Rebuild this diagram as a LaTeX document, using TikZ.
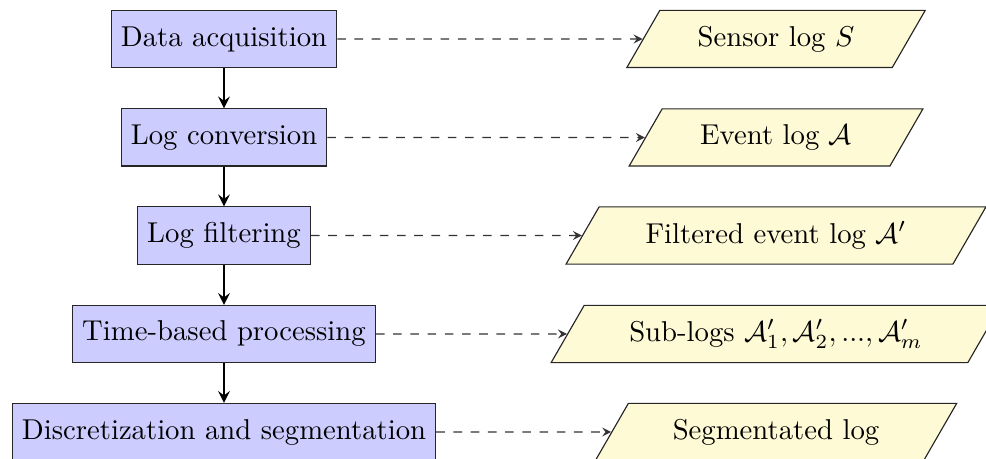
\documentclass[tikz,border=0pt]{standalone}
\usetikzlibrary{shapes.geometric,arrows}
\definecolor{procfill}{rgb}{0.8,0.8,1}
\definecolor{iofill}{rgb}{1,0.98,0.84}
\begin{document}
\begin{tikzpicture}[x=0.34843pt,y=-0.34843pt,
  procbox/.style={rectangle,draw=black!85,fill=procfill,minimum height=0.7cm,inner sep=3.33pt},
  iobox/.style={trapezium,trapezium left angle=60,trapezium right angle=120,draw=black!85,fill=iofill,minimum height=0.7cm,inner xsep=4.8pt},
  flow/.style={-stealth,thick},
  outarrow/.style={-stealth,dashed,draw=black!80}]
\useasboundingbox (0,0) rectangle (986,459);
\node[procbox] (p1) at (224,39) {Data acquisition};
\node[procbox] (p2) at (224,137.5) {Log conversion};
\node[procbox] (p3) at (224,235.5) {Log filtering};
\node[procbox] (p4) at (224,334) {Time-based processing};
\node[procbox] (p5) at (224,432) {Discretization and segmentation};
\node[iobox] (o1) at (776,39) {Sensor log $S$};
\node[iobox] (o2) at (776,137.5) {Event log $\mathcal{A}$};
\node[iobox] (o3) at (776,235.5) {Filtered event log $\mathcal{A}'$};
\node[iobox] (o4) at (776,334) {Sub-logs $\mathcal{A}'_1,\mathcal{A}'_2,...,\mathcal{A}'_m$};
\node[iobox] (o5) at (776,432) {Segmentated log};
\draw[flow] (p1) -- (p2);
\draw[flow] (p2) -- (p3);
\draw[flow] (p3) -- (p4);
\draw[flow] (p4) -- (p5);
\draw[outarrow] (p1.east) -- (o1.west);
\draw[outarrow] (p2.east) -- (o2.west);
\draw[outarrow] (p3.east) -- (o3.west);
\draw[outarrow] (p4.east) -- (o4.west);
\draw[outarrow] (p5.east) -- (o5.west);
\end{tikzpicture}
\end{document}
